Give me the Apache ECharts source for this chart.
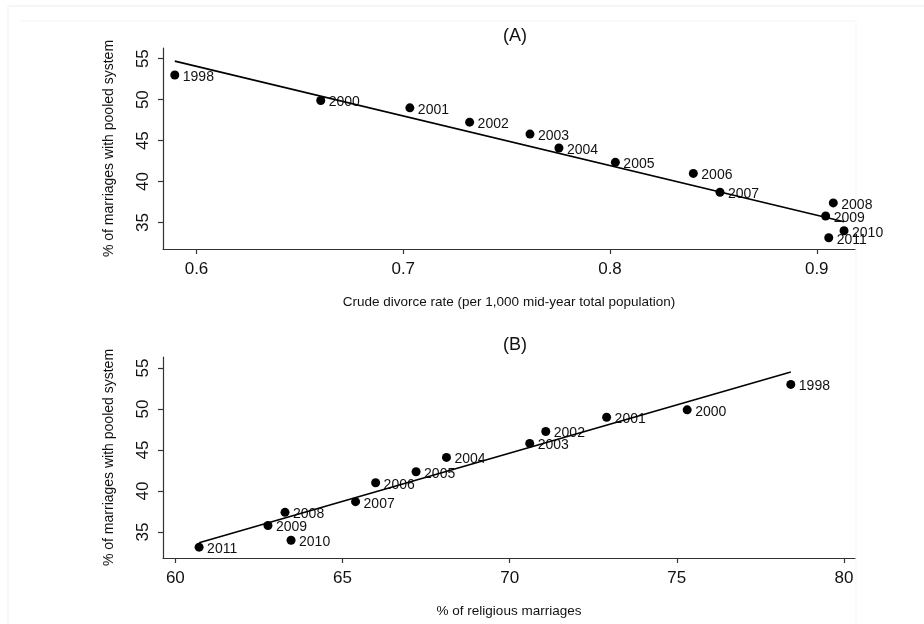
<!DOCTYPE html>
<html>
<head>
<meta charset="utf-8">
<script src="https://cdn.jsdelivr.net/npm/echarts@6/dist/echarts.min.js"></script>
<style>
html,body{margin:0;padding:0;background:#fff;}
#chart{width:924px;height:624px;}
</style>
</head>
<body>
<div id="chart"></div>
<script>
// ---- data ----
const years = ['1998','2000','2001','2002','2003','2004','2005','2006','2007','2008','2009','2010','2011'];
const pooledPct = [53.0, 49.9, 49.0, 47.25, 45.8, 44.1, 42.35, 41.0, 38.7, 37.4, 35.8, 34.0, 33.15];
const divorceRate = [0.5895, 0.6601, 0.7032, 0.7321, 0.7613, 0.7753, 0.8026, 0.8403, 0.8532, 0.9080, 0.9043, 0.9132, 0.9058];
const religiousPct = [78.41, 75.31, 72.90, 71.08, 70.60, 68.11, 67.20, 65.99, 65.39, 63.28, 62.77, 63.46, 60.71];
// fitted line endpoints (x, y)
const fitA = [[0.5895, 54.7], [0.9132, 35.1]];
const fitB = [[60.71, 33.68], [78.41, 54.5]];
// tick labels
const yTicks = [35, 40, 45, 50, 55];
const xTicksA = [0.6, 0.7, 0.8, 0.9];
const xTicksB = [60, 65, 70, 75, 80];
const titleA = '(A)';
const titleB = '(B)';
const yName = '% of marriages with pooled system';
const xNameA = 'Crude divorce rate (per 1,000 mid-year total population)';
const xNameB = '% of religious marriages';

const FONT = '"Liberation Sans", Arial, sans-serif';
const axisCol = '#333';
const txtCol = '#111';

function pts(xs) { return xs.map((x, i) => [x, pooledPct[i], years[i]]); }

function xAxisCfg(grid, min, max, ticks, name) {
  return {
    type: 'value', gridIndex: grid, min: min, max: max,
    name: name, nameLocation: 'middle', nameGap: 46,
    nameTextStyle: { fontFamily: FONT, fontSize: 13.5, color: txtCol },
    axisLine: { show: true, onZero: false, lineStyle: { color: axisCol, width: 1.2 } },
    axisTick: { show: true, length: 5, customValues: ticks, lineStyle: { color: axisCol, width: 1.2 } },
    axisLabel: { customValues: ticks, margin: 12, fontFamily: FONT, fontSize: 17, color: txtCol },
    splitLine: { show: false }
  };
}
function yAxisCfg(grid, min, max) {
  return {
    type: 'value', gridIndex: grid, min: min, max: max,
    name: yName, nameLocation: 'middle', nameGap: 47,
    nameTextStyle: { fontFamily: FONT, fontSize: 14, color: txtCol },
    axisLine: { show: true, onZero: false, lineStyle: { color: axisCol, width: 1.2 } },
    axisTick: { show: true, length: 5, customValues: yTicks, lineStyle: { color: axisCol, width: 1.2 } },
    axisLabel: { customValues: yTicks, rotate: 90, margin: 11, fontFamily: FONT, fontSize: 17, color: txtCol },
    splitLine: { show: false }
  };
}
function scatterCfg(idx, xs) {
  return {
    type: 'scatter', xAxisIndex: idx, yAxisIndex: idx, data: pts(xs),
    symbol: 'circle', symbolSize: 9, itemStyle: { color: '#000', opacity: 1 },
    label: { show: true, position: 'right', distance: 3.5, offset: [0, 2],
      formatter: p => p.data[2], fontFamily: FONT, fontSize: 14, color: txtCol, opacity: 1 },
    emphasis: { disabled: true }, silent: true, z: 2
  };
}
function lineCfg(idx, d) {
  return {
    type: 'line', xAxisIndex: idx, yAxisIndex: idx, data: d,
    showSymbol: false, symbol: 'none', lineStyle: { color: '#000', width: 1.6, opacity: 1 },
    silent: true, z: 3
  };
}

const chart = echarts.init(document.getElementById('chart'), null, { renderer: 'canvas' });
chart.setOption({
  animation: false,
  backgroundColor: '#fff',
  title: [
    { text: titleA, left: 510, top: 22, textAlign: 'center',
      textStyle: { fontFamily: FONT, fontSize: 18, fontWeight: 'normal', color: txtCol } },
    { text: titleB, left: 510, top: 331, textAlign: 'center',
      textStyle: { fontFamily: FONT, fontSize: 18, fontWeight: 'normal', color: txtCol } }
  ],
  graphic: [
    { type: 'line', shape: { x1: 8, y1: 6, x2: 924, y2: 6 }, style: { stroke: '#e9eeee', lineWidth: 1 }, silent: true },
    { type: 'line', shape: { x1: 8, y1: 6, x2: 8, y2: 624 }, style: { stroke: '#eff2f2', lineWidth: 1 }, silent: true },
    { type: 'line', shape: { x1: 856, y1: 21, x2: 856, y2: 624 }, style: { stroke: '#f4f5f5', lineWidth: 1 }, silent: true },
    { type: 'line', shape: { x1: 20, y1: 21, x2: 856, y2: 21 }, style: { stroke: '#f4f5f5', lineWidth: 1 }, silent: true }
  ],
  grid: [
    { left: 163, right: 69, top: 48, height: 201, containLabel: false },
    { left: 163, right: 69, top: 357, height: 201, containLabel: false }
  ],
  xAxis: [
    xAxisCfg(0, 0.5838, 0.9185, xTicksA, xNameA),
    xAxisCfg(1, 59.63, 80.33, xTicksB, xNameB)
  ],
  yAxis: [
    yAxisCfg(0, 31.78, 56.3),
    yAxisCfg(1, 31.83, 56.34)
  ],
  series: [
    scatterCfg(0, divorceRate),
    lineCfg(0, fitA),
    scatterCfg(1, religiousPct),
    lineCfg(1, fitB)
  ]
});
</script>
</body>
</html>
